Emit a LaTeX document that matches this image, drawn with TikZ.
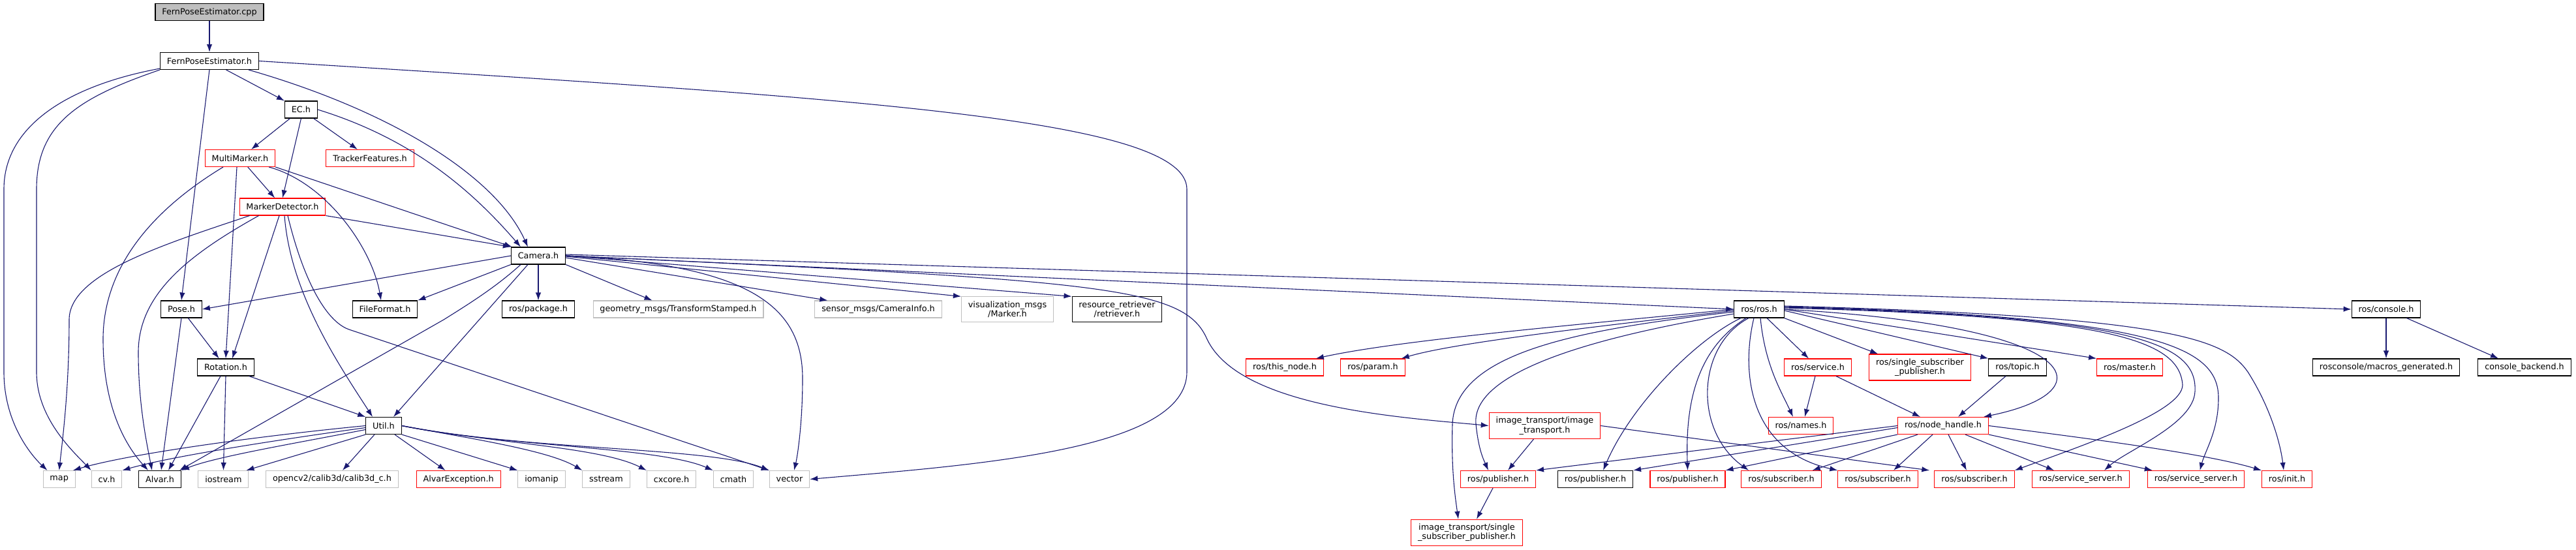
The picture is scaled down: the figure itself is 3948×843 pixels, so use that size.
\documentclass[tikz,border=0pt]{standalone}
\usepackage{fontspec}
\setmainfont{DejaVu Sans}
\usetikzlibrary{arrows.meta}
\definecolor{edgeblue}{RGB}{25,25,112}
\definecolor{extgray}{RGB}{191,191,191}
\newcommand{\depfont}{\fontsize{12.8}{14.5}\selectfont}
\tikzset{
  file/.style={draw, line width=1.1pt, fill=white, inner xsep=10.4pt, inner ysep=6.4pt,
    minimum height=26pt, align=center, font=\depfont},
  docfile/.style={file, draw=black},
  redfile/.style={file, draw=red},
  extfile/.style={file, draw=extgray},
  rootfile/.style={file, draw=black, fill=extgray},
  dep/.style={-{Latex[length=12pt,width=8.5pt]}, draw=edgeblue, fill=none, line width=1.1pt},
}
\begin{document}
\begin{tikzpicture}[x=1pt, y=-1pt]
\useasboundingbox (0,0) rectangle (3948,843);

% upper part
\node[rootfile] (cppfile) at (321,18.7) {FernPoseEstimator.cpp};
\node[docfile] (fpeh) at (321,93.5) {FernPoseEstimator.h};
\node[docfile] (ech) at (461.5,168) {EC.h};
\node[redfile] (multimarker) at (368,242.5) {MultiMarker.h};
\node[redfile] (tracker) at (567,242.5) {TrackerFeatures.h};
\node[redfile] (markerdet) at (433,317) {MarkerDetector.h};
\node[docfile] (camera) at (825,392) {Camera.h};

% row under Camera.h
\node[docfile] (pose) at (278,474) {Pose.h};
\node[docfile] (fileformat) at (590,474) {FileFormat.h};
\node[docfile] (rospackage) at (825,474) {ros/package.h};
\node[extfile] (geommsgs) at (1039.5,474) {geometry\_msgs/TransformStamped.h};
\node[extfile] (sensormsgs) at (1346,474) {sensor\_msgs/CameraInfo.h};
\node[extfile] (vismsgs) at (1544,474) {visualization\_msgs\\/Marker.h};
\node[docfile] (retriever) at (1712,474) {resource\_retriever\\/retriever.h};
\node[docfile] (rosros) at (2696,474) {ros/ros.h};
\node[docfile] (rosconsole) at (3657,474) {ros/console.h};

\node[docfile] (rotation) at (346,563) {Rotation.h};
\node[redfile] (thisnode) at (1969,563) {ros/this\_node.h};
\node[redfile] (rosparam) at (2104,563) {ros/param.h};
\node[redfile] (rosservice) at (2786,563) {ros/service.h};
\node[redfile] (singlesub) at (2942.5,563) {ros/single\_subscriber\\\_publisher.h};
\node[docfile] (rostopic) at (3092,563) {ros/topic.h};
\node[redfile] (rosmaster) at (3264,563) {ros/master.h};
\node[docfile] (macrosgen) at (3657,563) {rosconsole/macros\_generated.h};
\node[docfile] (consolebackend) at (3869,563) {console\_backend.h};

\node[docfile] (util) at (588,652.5) {Util.h};
\node[redfile] (imgtransport) at (2367.5,652.5) {image\_transport/image\\\_transport.h};
\node[redfile] (rosnames) at (2760,652.5) {ros/names.h};
\node[redfile] (nodehandle) at (2978,652.5) {ros/node\_handle.h};

% bottom row
\node[extfile] (stdmap) at (90.7,734.5) {map};
\node[extfile] (cvh) at (163.6,734.5) {cv.h};
\node[docfile] (alvar) at (245,734.5) {Alvar.h};
\node[extfile] (iostream) at (342.4,734.5) {iostream};
\node[extfile] (calib) at (509,734.5) {opencv2/calib3d/calib3d\_c.h};
\node[redfile] (alvarexc) at (702.6,734.5) {AlvarException.h};
\node[extfile] (iomanip) at (830,734.5) {iomanip};
\node[extfile] (sstream) at (929,734.5) {sstream};
\node[extfile] (cxcore) at (1029,734.5) {cxcore.h};
\node[extfile] (cmath) at (1124,734.5) {cmath};
\node[extfile] (vector) at (1210,734.5) {vector};
\node[redfile] (pubA) at (2296,734.5) {ros/publisher.h};
\node[docfile] (pubB) at (2445,734.5) {ros/publisher.h};
\node[redfile] (pubC) at (2586.5,734.5) {ros/publisher.h};
\node[redfile] (subA) at (2730,734.5) {ros/subscriber.h};
\node[redfile] (subB) at (2878,734.5) {ros/subscriber.h};
\node[redfile] (subC) at (3026,734.5) {ros/subscriber.h};
\node[redfile] (srvA) at (3189,734.5) {ros/service\_server.h};
\node[redfile] (srvB) at (3365.5,734.5) {ros/service\_server.h};
\node[redfile] (rosinit) at (3505,734.5) {ros/init.h};
\node[redfile] (itssp) at (2248,816.3) {image\_transport/single\\\_subscriber\_publisher.h};

% FernPoseEstimator
\draw[dep] (cppfile) -- (fpeh);
\draw[dep] ([yshift=2pt]fpeh.south west) .. controls (110,130) and (6,190) .. (6,290) -- (6,570) .. controls (6,650) and (50,700) .. ([xshift=7pt]stdmap.north west);
\draw[dep] (fpeh.south west) .. controls (120,150) and (56,190) .. (56,290) -- (56,570) .. controls (56,640) and (110,690) .. (cvh.north west);
\draw[dep] (fpeh.south) -- (pose.north);
\draw[dep] (fpeh) -- (ech);
\draw[dep] ([xshift=-16pt]fpeh.south east) .. controls (600,170) and (760,270) .. ([xshift=-16pt]camera.north);
\draw[dep] (fpeh.east) .. controls (1300,150) and (1819,180) .. (1819,290) -- (1819,570) .. controls (1819,690) and (1500,712) .. (vector.east);

% EC.h
\draw[dep] (ech) -- (multimarker);
\draw[dep] (ech.south) -- (markerdet.north);
\draw[dep] (ech) -- (tracker);
\draw[dep] (ech.east) .. controls (640,215) and (730,300) .. ([xshift=-27pt]camera.north);

% MultiMarker.h
\draw[dep] ([xshift=-26pt]multimarker.south) .. controls (220,330) and (158,420) .. (158,520) .. controls (158,620) and (190,680) .. ([xshift=-18pt]alvar.north);
\draw[dep] ([xshift=-5pt]multimarker.south) -- (rotation.north);
\draw[dep] (multimarker) -- (markerdet);
\draw[dep] ([xshift=-10pt]multimarker.south east) .. controls (500,280) and (570,380) .. ([xshift=-6pt]fileformat.north);
\draw[dep] (multimarker.south east) -- ([xshift=2pt]camera.north west);

% MarkerDetector.h
\draw[dep] ([xshift=16pt]markerdet.south west) .. controls (250,375) and (106,420) .. (106,490) .. controls (106,600) and (95,680) .. (stdmap.north);
\draw[dep] ([xshift=30pt]markerdet.south west) .. controls (290,390) and (212,450) .. (212,540) .. controls (212,620) and (225,680) .. ([xshift=-12pt]alvar.north);
\draw[dep] ([xshift=-5pt]markerdet.south) -- ([xshift=10pt]rotation.north);
\draw[dep] ([xshift=3pt]markerdet.south) .. controls (445,450) and (520,560) .. ([xshift=-17pt]util.north);
\draw[dep] ([xshift=8pt]markerdet.south) .. controls (465,430) and (500,493) .. (535,505) -- (vector.north west);
\draw[dep] (markerdet.south east) -- (camera.north west);

% Camera.h
\draw[dep] (camera.west) -- (pose.east);
\draw[dep] (camera.south west) -- (fileformat.north east);
\draw[dep] ([xshift=-27pt]camera.south) .. controls (760,440) and (720,465) .. (680,490) -- ([xshift=-3pt]alvar.north east);
\draw[dep] ([xshift=-16pt]camera.south) -- ([xshift=15pt]util.north);
\draw[dep] (camera) -- (rospackage);
\draw[dep] (camera.south east) -- ([xshift=-40pt]geommsgs.north);
\draw[dep] ([yshift=-3pt]camera.east) -- ([xshift=20pt]sensormsgs.north west);
\draw[dep] ([yshift=-1pt]camera.east) -- (vismsgs.north west);
\draw[dep] (camera.east) -- (retriever.north west);
\draw[dep] (camera.east) .. controls (1150,405) and (1230,470) .. (1230,580) .. controls (1230,650) and (1222,700) .. ([xshift=7pt]vector.north);
\draw[dep] (camera.east) .. controls (1700,430) and (1815,440) .. (1850,520) .. controls (1900,625) and (2150,640) .. (imgtransport.west);
\draw[dep] (camera.east) -- (rosros.west);
\draw[dep] ([yshift=2pt]camera.east) -- (rosconsole.west);

% Pose.h, Rotation.h
\draw[dep] (pose) -- (rotation);
\draw[dep] (pose.south) -- ([xshift=2pt]alvar.north);
\draw[dep] ([xshift=-8pt]rotation.south) -- ([xshift=13pt]alvar.north);
\draw[dep] (rotation.south) -- (iostream.north);
\draw[dep] ([xshift=-8pt]rotation.south east) -- (util.north west);

% Util.h
\draw[dep] (util.west) .. controls (400,668) and (200,695) .. ([xshift=-4pt]stdmap.north east);
\draw[dep] ([yshift=-3pt]util.west) .. controls (420,675) and (260,700) .. (cvh.north east);
\draw[dep] ([yshift=-6pt]util.west) .. controls (450,680) and (330,700) .. (alvar.north east);
\draw[dep] (util.south west) -- ([xshift=-4pt]iostream.north east);
\draw[dep] ([xshift=-14pt]util.south) -- ([xshift=16pt]calib.north);
\draw[dep] ([xshift=17pt]util.south) -- ([xshift=-20pt]alvarexc.north);
\draw[dep] (util.south east) -- (iomanip.north west);
\draw[dep] (util.east) .. controls (720,672) and (840,690) .. (sstream.north west);
\draw[dep] (util.east) .. controls (760,680) and (920,685) .. (cxcore.north west);
\draw[dep] (util.east) .. controls (780,685) and (1010,685) .. (cmath.north west);
\draw[dep] (util.east) .. controls (800,690) and (1090,685) .. (vector.north west);

% ros/ros.h
\draw[dep] (rosros.west) .. controls (2450,495) and (2150,520) .. ([xshift=-12pt]thisnode.north east);
\draw[dep] ([yshift=-2pt]rosros.west) .. controls (2450,500) and (2230,525) .. ([xshift=-6pt]rosparam.north east);
\draw[dep] ([yshift=-4pt]rosros.west) .. controls (2420,505) and (2230,540) .. (2226,650) .. controls (2224,720) and (2230,760) .. ([xshift=-13pt]itssp.north);
\draw[dep] ([yshift=-7pt]rosros.west) .. controls (2420,520) and (2255,575) .. (2262,650) .. controls (2266,690) and (2274,705) .. ([xshift=-15pt]pubA.north);
\draw[dep] ([xshift=-28pt]rosros.south) .. controls (2600,520) and (2500,620) .. ([xshift=12pt]pubB.north);
\draw[dep] ([xshift=-20pt]rosros.south) .. controls (2610,530) and (2582,600) .. (pubC.north);
\draw[dep] ([xshift=-16pt]rosros.south) .. controls (2600,530) and (2595,660) .. ([xshift=-50pt]subA.north);
\draw[dep] ([xshift=2pt]rosros.south) .. controls (2705,560) and (2730,600) .. ([xshift=-12pt]rosnames.north);
\draw[dep] ([xshift=-8pt]rosros.south) .. controls (2668,570) and (2680,690) .. (subB.north west);
\draw[dep] ([xshift=12pt]rosros.south) -- ([xshift=-14pt]rosservice.north);
\draw[dep] (rosros.south east) -- ([xshift=14pt]singlesub.north west);
\draw[dep] ([yshift=-2pt]rosros.east) -- (rostopic.north west);
\draw[dep] (rosros.east) -- (rosmaster.north west);
\draw[dep] (rosros.east) .. controls (3200,500) and (3230,600) .. ([xshift=-8pt]nodehandle.north east);
\draw[dep] ([yshift=2pt]rosros.east) .. controls (3230,485) and (3340,520) .. (3345,590) .. controls (3345,630) and (3200,680) .. (subC.north east);
\draw[dep] ([yshift=3pt]rosros.east) .. controls (3270,485) and (3368,525) .. (3364,600) .. controls (3362,650) and (3260,690) .. ([xshift=36pt]srvA.north);
\draw[dep] ([yshift=4pt]rosros.east) .. controls (3300,485) and (3400,530) .. (3400,610) .. controls (3400,660) and (3380,690) .. ([xshift=6pt]srvB.north);
\draw[dep] ([yshift=5pt]rosros.east) .. controls (3330,485) and (3410,520) .. (3445,570) .. controls (3480,625) and (3495,680) .. ([xshift=-5pt]rosinit.north);

% service, topic, console
\draw[dep] ([xshift=-4pt]rosservice.south) -- ([xshift=6pt]rosnames.north);
\draw[dep] ([xshift=28pt]rosservice.south) -- ([xshift=-35pt]nodehandle.north);
\draw[dep] ([xshift=-18pt]rostopic.south) -- ([xshift=23pt]nodehandle.north);
\draw[dep] (rosconsole) -- (macrosgen);
\draw[dep] ([xshift=-22pt]rosconsole.south east) -- ([xshift=-40pt]consolebackend.north);

% image_transport
\draw[dep] ([xshift=-17pt]imgtransport.south) -- ([xshift=15pt]pubA.north);
\draw[dep] (imgtransport.east) -- ([xshift=-7pt]subC.north west);
\draw[dep] ([xshift=-8pt]pubA.south) -- ([xshift=15pt]itssp.north);

% ros/node_handle.h
\draw[dep] (nodehandle.west) -- (pubA.north east);
\draw[dep] ([yshift=-3pt]nodehandle.west) -- (pubB.north east);
\draw[dep] (nodehandle.south west) -- (pubC.north east);
\draw[dep] ([xshift=-39pt]nodehandle.south) -- ([xshift=-14pt]subA.north east);
\draw[dep] ([xshift=-16pt]nodehandle.south) -- ([xshift=24pt]subB.north);
\draw[dep] ([xshift=8pt]nodehandle.south) -- ([xshift=-12pt]subC.north);
\draw[dep] ([xshift=34pt]nodehandle.south) -- ([xshift=-41pt]srvA.north);
\draw[dep] (nodehandle.south east) -- ([xshift=8pt]srvB.north west);
\draw[dep] (nodehandle.east) .. controls (3200,672) and (3380,695) .. (rosinit.north west);

\end{tikzpicture}
\end{document}
